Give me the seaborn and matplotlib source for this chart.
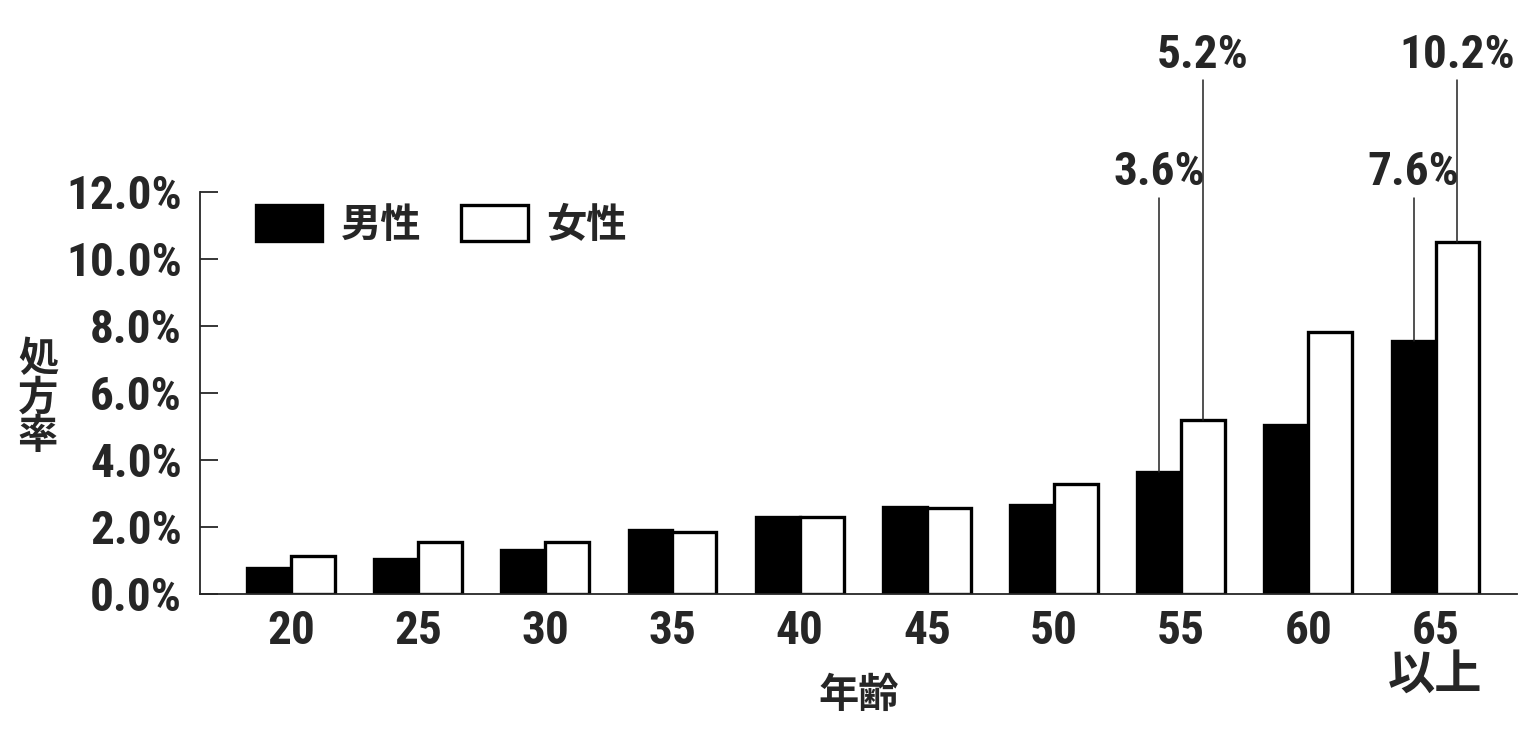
import matplotlib
matplotlib.use("Agg")
import matplotlib.pyplot as plt
from matplotlib import font_manager
import pandas as pd
import seaborn as sns

ages = ["20", "25", "30", "35", "40", "45", "50", "55", "60", "65\n以上"]
male = [0.78, 1.04, 1.31, 1.91, 2.30, 2.60, 2.65, 3.64, 5.04, 7.55]
female = [1.12, 1.55, 1.55, 1.85, 2.30, 2.58, 3.28, 5.19, 7.82, 10.50]
sexes = ["男性", "女性"]

annot_age = ["55", "55", "65\n以上", "65\n以上"]
annot_sex = ["男性", "女性", "男性", "女性"]
annot_text = ["3.6%", "5.2%", "7.6%", "10.2%"]

df = pd.DataFrame({
    "年齢": ages * 2,
    "処方率": male + female,
    "性別": [sexes[0]] * len(ages) + [sexes[1]] * len(ages),
})

sns.set_style("ticks")
names = {f.name for f in font_manager.fontManager.ttflist}
num_font = "DejaVu Sans"
for cand in ["Roboto Condensed", "Liberation Sans Narrow", "Open Sans Condensed"]:
    if cand in names:
        num_font = cand
        break
fam = [num_font, "Noto Sans CJK JP", "DejaVu Sans"]
plt.rcParams["font.family"] = fam
plt.rcParams["font.weight"] = "bold"
plt.rcParams["axes.labelweight"] = "bold"

fig = plt.figure(figsize=(15.36, 7.42), dpi=100)
ax = fig.add_axes([0.1302, 0.1995, 0.8574, 0.5418])

sns.barplot(data=df, x="年齢", y="処方率", hue="性別", order=ages,
            hue_order=sexes, palette={"男性": "black", "女性": "white"},
            edgecolor="black", linewidth=2.4, width=0.69, saturation=1,
            errorbar=None, ax=ax)

ax.set_xlim(-0.715, 9.64)
ax.set_ylim(0, 12)
ax.set_yticks(range(0, 13, 2))
ax.set_yticklabels([f"{v:.1f}%" for v in range(0, 13, 2)])
ax.tick_params(axis="y", direction="in", length=13, width=1.3, pad=13,
               labelsize=34)
ax.tick_params(axis="x", length=0, pad=11, labelsize=34)
for lab in ax.get_xticklabels():
    lab.set_linespacing(1.0)
sns.despine(ax=ax)
for s in ["left", "bottom"]:
    ax.spines[s].set_linewidth(1.3)

ax.set_ylabel("処\n方\n率", rotation=0, fontsize=29, linespacing=1.0,
              va="center", ha="center", fontweight="bold")
ax.yaxis.set_label_coords(-0.123, 0.4876)
ax.set_xlabel("年齢", fontsize=29, fontweight="bold")
ax.xaxis.set_label_coords(0.5, -0.254)
ax.xaxis.label.set_va("center")

# annotations above the 55 and 65+ bars
line_top = {"男性": 11.82, "女性": 15.34}
text_base = {"男性": 12.2, "女性": 15.7}
for a, s, t in zip(annot_age, annot_sex, annot_text):
    bar = ax.containers[sexes.index(s)][ages.index(a)]
    x = bar.get_x() + bar.get_width() / 2
    ax.plot([x, x], [bar.get_height(), line_top[s]], color="#222222",
            lw=1.1, clip_on=False, zorder=1)
    ax.text(x, text_base[s], t, ha="center", va="baseline", fontsize=34,
            fontweight="bold")

handles, labels = ax.get_legend_handles_labels()
ax.legend(handles, labels, loc="center left", bbox_to_anchor=(0.0425, 0.918),
          ncol=2, frameon=False, fontsize=29, handlelength=1.65,
          handleheight=1.0, handletextpad=0.45, columnspacing=1.0,
          borderpad=0, borderaxespad=0)

fig.savefig("out.png", dpi=100)
